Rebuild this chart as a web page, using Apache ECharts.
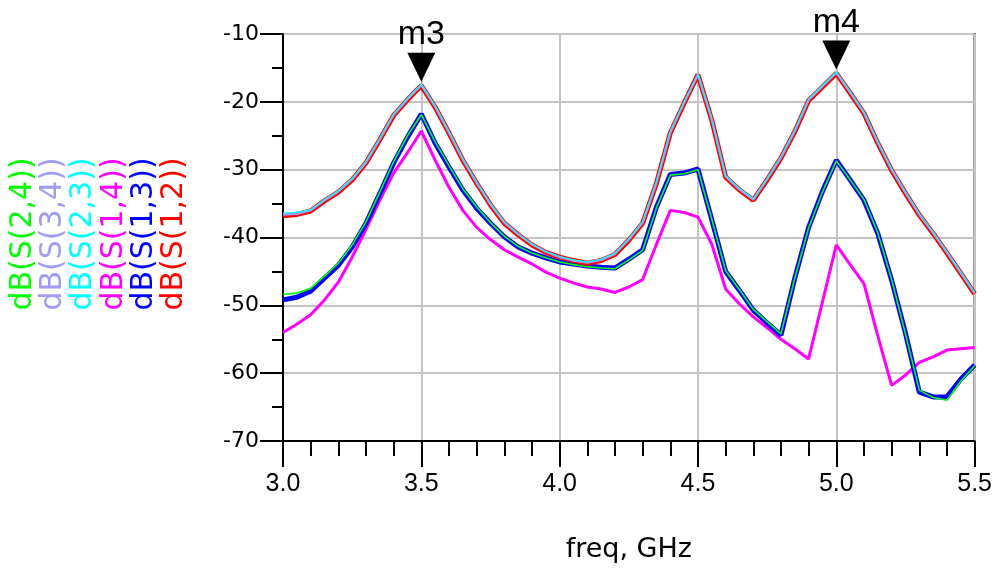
<!DOCTYPE html>
<html>
<head>
<meta charset="utf-8">
<script src="https://cdn.jsdelivr.net/npm/echarts@6/dist/echarts.min.js"></script>
<style>
html,body{margin:0;padding:0;background:#fff;}
#chart{width:995px;height:568px;}
</style>
</head>
<body>
<div id="chart"></div>
<script>
// Frequency points (GHz)
var freq = [3.00,3.05,3.10,3.15,3.20,3.25,3.30,3.35,3.40,3.45,3.50,3.55,3.60,3.65,3.70,3.75,3.80,3.85,3.90,3.95,
            4.00,4.05,4.10,4.15,4.20,4.25,4.30,4.35,4.40,4.45,4.50,4.55,4.60,4.65,4.70,4.75,4.80,4.85,4.90,4.95,
            5.00,5.05,5.10,5.15,5.20,5.25,5.30,5.35,5.40,5.45,5.50];

// dB(S(1,2))
var s12 = [-36.8,-36.6,-36.1,-34.6,-33.3,-31.5,-29.0,-25.6,-22.0,-19.7,-17.6,-20.8,-24.6,-28.6,-32.0,-35.2,-37.9,-39.6,-41.1,-42.2,
           -42.9,-43.4,-43.8,-43.4,-42.5,-40.4,-37.9,-32.0,-24.6,-20.2,-16.0,-22.7,-31.1,-33.0,-34.5,-31.5,-28.3,-24.4,-19.8,-17.8,
           -15.8,-18.7,-21.7,-26.1,-30.1,-33.5,-36.7,-39.4,-42.3,-45.3,-48.3];
// dB(S(2,3))
var s23 = [-36.4,-36.3,-35.9,-34.4,-33.1,-31.3,-28.8,-25.4,-21.8,-19.5,-17.4,-20.6,-24.4,-28.4,-31.9,-35.0,-37.7,-39.5,-41.0,-42.1,
           -42.8,-43.3,-43.6,-43.2,-42.3,-40.2,-37.7,-31.8,-24.4,-20.0,-15.9,-22.5,-30.9,-32.8,-34.3,-31.3,-28.1,-24.2,-19.6,-17.6,
           -15.6,-18.5,-21.5,-25.9,-29.9,-33.3,-36.5,-39.2,-42.1,-45.1,-48.1];
// dB(S(3,4))
var s34 = [-36.6,-36.5,-36.0,-34.5,-33.2,-31.4,-28.9,-25.5,-21.9,-19.6,-17.5,-20.7,-24.5,-28.5,-31.9,-35.1,-37.8,-39.5,-41.0,-42.1,
           -42.9,-43.4,-43.7,-43.3,-42.4,-40.3,-37.8,-31.9,-24.5,-20.1,-16.0,-22.6,-31.0,-32.9,-34.4,-31.4,-28.2,-24.3,-19.7,-17.7,
           -15.7,-18.6,-21.6,-26.0,-30.0,-33.4,-36.6,-39.3,-42.2,-45.2,-48.2];
// dB(S(1,3))
var s13 = [-49.2,-48.8,-47.9,-46.0,-44.1,-41.4,-37.9,-33.5,-29.0,-25.2,-21.8,-26.1,-29.6,-33.0,-35.7,-37.9,-39.9,-41.4,-42.3,-43.0,
           -43.6,-43.9,-44.2,-44.4,-44.5,-43.2,-41.8,-35.5,-30.7,-30.5,-29.9,-37.4,-45.0,-47.8,-50.7,-52.6,-54.4,-46.0,-38.5,-33.2,
           -28.6,-31.5,-34.5,-39.4,-46.3,-54.1,-62.8,-63.5,-63.5,-60.9,-58.8];
// dB(S(2,4))
var s24 = [-48.4,-48.2,-47.5,-45.7,-43.8,-41.1,-37.7,-33.3,-28.8,-25.0,-21.9,-25.9,-29.4,-32.8,-35.5,-37.8,-39.8,-41.3,-42.3,-43.0,
           -43.6,-44.0,-44.3,-44.5,-44.6,-43.3,-41.9,-35.6,-30.8,-30.6,-30.0,-37.3,-44.9,-47.7,-50.6,-52.4,-54.2,-46.0,-38.6,-33.3,
           -28.7,-31.5,-34.4,-39.3,-46.2,-54.2,-62.5,-63.6,-64.0,-61.2,-58.9];
// dB(S(1,4))
var s14 = [-54.0,-52.8,-51.4,-49.2,-46.6,-42.9,-38.8,-34.5,-30.5,-27.5,-24.3,-28.6,-32.6,-36.0,-38.5,-40.3,-41.8,-42.9,-43.9,-45.1,
           -46.0,-46.7,-47.3,-47.6,-48.1,-47.3,-46.2,-41.0,-36.0,-36.3,-37.0,-41.0,-47.6,-49.8,-51.7,-53.3,-55.0,-56.4,-57.9,-49.5,
           -41.1,-44.0,-46.8,-54.5,-61.8,-60.3,-58.4,-57.6,-56.6,-56.4,-56.2];

// Legend labels (left to right) and colours
var legendNames = ['dB(S(2,4))','dB(S(3,4))','dB(S(2,3))','dB(S(1,4))','dB(S(1,3))','dB(S(1,2))'];
var legendColors = ['#00ff00','#a09cf4','#00ffff','#ff00ff','#0000ff','#ff0000'];

// Markers
var markerNames = ['m3','m4'];
var markerFreqs = [3.5, 5.0];

function pairs(arr){ return freq.map(function(f,i){ return [f, arr[i]]; }); }

var markData = markerNames.map(function(n, k){
  var idx = freq.indexOf(markerFreqs[k]);
  return { name: n, coord: [markerFreqs[k], s23[idx]] };
});

var chart = echarts.init(document.getElementById('chart'), null, {renderer:'canvas'});

function lineSeries(name, arr, color, width, z){
  return { name: name, type: 'line', data: pairs(arr), symbol: 'none', smooth: false,
           lineStyle: { color: color, width: width }, itemStyle: {color: color}, z: z, silent: true };
}

var series = [
  lineSeries('dB(S(1,4))', s14, '#ff00ff', 3, 2),
  lineSeries('dB(S(1,3))', s13, '#0000ff', 5, 3),
  lineSeries('dB(S(2,4))', s24, '#00ff00', 1.6, 4),
  lineSeries('dB(S(1,2))', s12, '#ff0000', 5, 5),
  lineSeries('dB(S(3,4))', s34, '#a09cf4', 2.4, 6),
  lineSeries('dB(S(2,3))', s23, '#00ffff', 1.2, 7)
];
series[5].markPoint = {
  symbol: 'triangle',
  symbolRotate: 180,
  symbolSize: [28, 29],
  symbolOffset: [0, -17],
  itemStyle: { color: '#000' },
  label: { show: true, position: 'top', distance: 1, formatter: function(p){ return p.name; },
           color: '#000', fontSize: 34, fontFamily: 'Liberation Sans' },
  data: markData,
  silent: true
};

var graphics = legendNames.map(function(n, i){
  return {
    type: 'text',
    x: 23 + i * 30.3,
    y: 234,
    rotation: Math.PI / 2,
    style: { text: n, fill: legendColors[i], font: '30px "DejaVu Sans"', textAlign: 'center', textVerticalAlign: 'middle' },
    silent: true
  };
});

chart.setOption({
  animation: false,
  backgroundColor: '#ffffff',
  grid: { left: 283, right: 17, top: 34, bottom: 127, show: true, borderColor: '#000', borderWidth: 2, backgroundColor: 'transparent' },
  xAxis: {
    type: 'value', min: 3, max: 5.5, interval: 0.5,
    axisLine: { show: true, lineStyle: { color: '#000', width: 2 } },
    axisTick: { show: true, length: 26, lineStyle: { color: '#000', width: 2 } },
    minorTick: { show: true, splitNumber: 5, length: 15, lineStyle: { color: '#000', width: 2 } },
    splitLine: { show: true, lineStyle: { color: '#c4c4c4', width: 2 } },
    axisLabel: { color: '#000', fontSize: 25, fontFamily: 'Liberation Sans', margin: 31,
                 formatter: function(v){ return v.toFixed(1); } },
    name: 'freq, GHz', nameLocation: 'middle', nameGap: 95,
    nameTextStyle: { color: '#000', fontSize: 27, fontFamily: 'DejaVu Sans' }
  },
  yAxis: {
    type: 'value', min: -70, max: -10, interval: 10,
    axisLine: { show: true, lineStyle: { color: '#000', width: 2 } },
    axisTick: { show: true, length: 23, lineStyle: { color: '#000', width: 2 } },
    minorTick: { show: true, splitNumber: 2, length: 11, lineStyle: { color: '#000', width: 2 } },
    splitLine: { show: true, lineStyle: { color: '#c4c4c4', width: 2 } },
    axisLabel: { color: '#000', fontSize: 22, fontFamily: 'DejaVu Sans', margin: 24 }
  },
  graphic: graphics,
  series: series
});
</script>
</body>
</html>
